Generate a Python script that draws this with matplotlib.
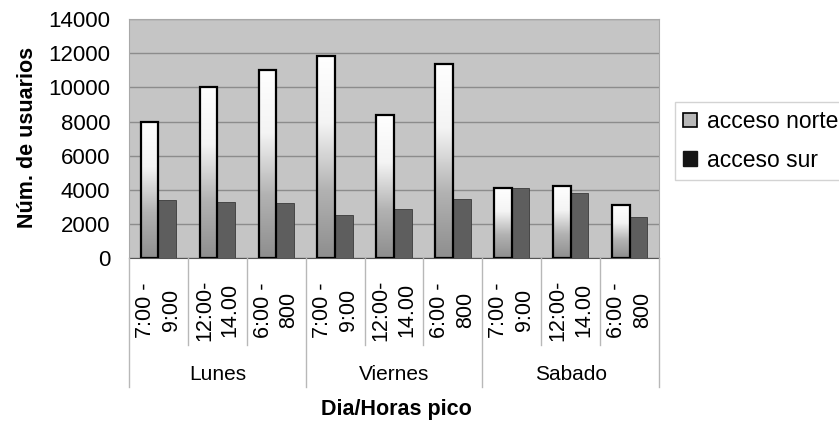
import numpy as np
import matplotlib
matplotlib.use("Agg")
import matplotlib.pyplot as plt
from matplotlib import transforms
from matplotlib.colors import LinearSegmentedColormap
from matplotlib.lines import Line2D
from matplotlib.patches import Patch

plt.rcParams['font.family'] = ['Liberation Sans', 'DejaVu Sans']

# datos
dias = ['Lunes', 'Viernes', 'Sabado']
horas = ['7:00 -\n9:00', '12:00-\n14.00', '6:00 -\n800']
norte = [8000, 10000, 11000, 11850, 8400, 11400, 4100, 4200, 3100]
sur = [3400, 3300, 3200, 2550, 2900, 3450, 4100, 3800, 2400]
yticks = [0, 2000, 4000, 6000, 8000, 10000, 12000, 14000]

W, H = 839, 430
fig = plt.figure(figsize=(W / 100, H / 100), dpi=100)
ax = fig.add_axes([129 / W, 1 - 258 / H, (659 - 129) / W, (258 - 19.3) / H])
ax.set_facecolor('#c5c5c5')

x = np.arange(len(norte))
bw = 0.3
b_norte = ax.bar(x - bw / 2, norte, bw, facecolor='none', edgecolor='black',
                 linewidth=1.6, zorder=4)
b_sur = ax.bar(x + bw / 2, sur, bw, color='#5e5e5e', edgecolor='#3a3a3a',
               linewidth=0.6, zorder=3)

# degradado en las barras del acceso norte
cmap = LinearSegmentedColormap.from_list('g', ['#8e8e8e', '#b2b2b2', '#f4f4f4', '#ffffff'])
grad = np.linspace(0, 1, 256).reshape(-1, 1)
for p in b_norte:
    x0, y0 = p.get_x(), p.get_y()
    im = ax.imshow(grad, extent=[x0, x0 + p.get_width(), y0, y0 + p.get_height()],
                   origin='lower', aspect='auto', cmap=cmap, zorder=3.5)
    im.set_clip_path(p)

ax.set_xlim(-0.5, len(norte) - 0.5)
ax.set_ylim(0, 14000)
ax.set_yticks(yticks)
ax.yaxis.grid(True, color='#8c8c8c', linewidth=1.0)
ax.set_axisbelow(True)
ax.tick_params(axis='y', length=0, pad=13.5, labelsize=16)
ax.set_xticks([])
for s in ['top', 'right', 'left']:
    ax.spines[s].set_color('#a8a8a8')
    ax.spines[s].set_linewidth(0.8)
ax.spines['bottom'].set_color('#555555')

# etiquetas del eje x en dos niveles
tr = transforms.blended_transform_factory(ax.transData, fig.transFigure)
fy = lambda py: 1 - py / H
for i in range(len(norte)):
    ax.text(i, fy(310), horas[i % 3], transform=tr, rotation=90, ha='center',
            va='center', multialignment='center', fontsize=15.5, linespacing=1.3)
for k in range(len(norte) + 1):
    bottom = 387 if k % 3 == 0 else 345
    fig.add_artist(Line2D([k - 0.5, k - 0.5], [fy(258), fy(bottom)], transform=tr,
                          color='#b8b8b8', linewidth=1))
for j, d in enumerate(dias):
    ax.text(3 * j + 1, fy(374), d, transform=tr, ha='center', va='center', fontsize=15)

fig.text(396 / W, fy(410), 'Dia/Horas pico', ha='center', va='center',
         fontsize=15.5, fontweight='bold')
fig.text(28 / W, fy(137), 'Núm. de usuarios', ha='center', va='center',
         rotation=90, fontsize=15.5, fontweight='bold')

handles = [Patch(facecolor='#b8b8b8', edgecolor='black', linewidth=1.2),
           Patch(facecolor='#151515', edgecolor='#151515')]
leg = fig.legend(handles, ['acceso norte', 'acceso sur'], loc='upper left',
                 bbox_to_anchor=(675 / W, fy(102)), fontsize=16.5, frameon=True,
                 fancybox=False, edgecolor='#c8c8c8', handlelength=0.6,
                 handleheight=0.6, handletextpad=0.45, labelspacing=0.68,
                 borderpad=0.35, borderaxespad=0)
leg.get_frame().set_linewidth(1.0)

fig.savefig('out.png', dpi=100)
